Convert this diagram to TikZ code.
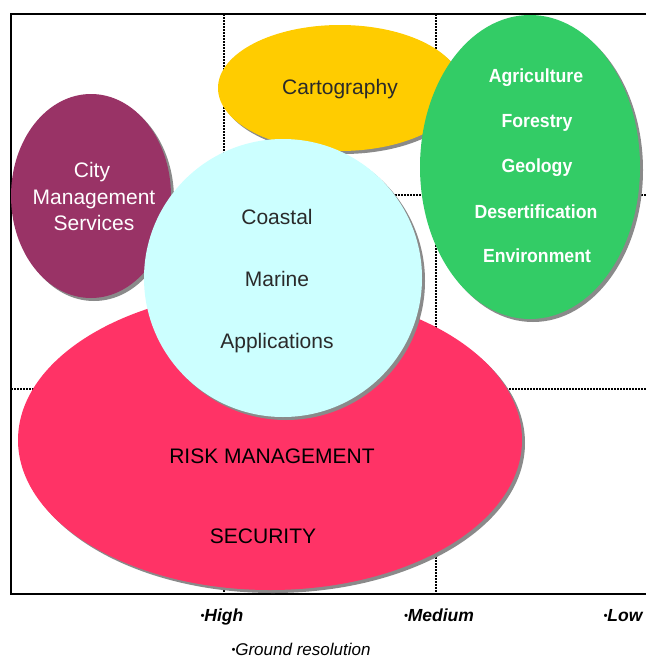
\documentclass[tikz,border=0pt]{standalone}
\usepackage{fontspec}
\setmainfont{Liberation Sans}
\newfontfamily\greenfont[FakeStretch=0.93]{Liberation Sans}
\definecolor{cmpurple}{HTML}{993366}
\definecolor{cmyellow}{HTML}{FFCC00}
\definecolor{cmgreen}{HTML}{33CC66}
\definecolor{cmred}{HTML}{FF3366}
\definecolor{cmcyan}{HTML}{CCFFFF}
\definecolor{shadowgrey}{HTML}{8A8A8A}
\definecolor{darktext}{HTML}{2A2A2A}
\newcommand{\smallbul}{{\fontsize{11}{11}\selectfont\raisebox{1.5pt}{•}}}
\tikzset{
  frameline/.style={line width=2pt, black},
  gridline/.style={line width=1.5pt, dash pattern=on 1.5pt off 1.5pt, black},
  shadowfill/.style={fill=shadowgrey},
  lbl/.style={inner sep=0pt, anchor=base, text=darktext, font=\fontsize{21}{21}\selectfont},
  citylbl/.style={lbl, text=white},
  glbl/.style={inner sep=0pt, anchor=base, text=white, font=\fontsize{19}{19}\greenfont\bfseries},
  axlbl/.style={inner sep=0pt, anchor=base, text=black, font=\fontsize{17.5}{17.5}\selectfont\bfseries\itshape},
  reslbl/.style={inner sep=0pt, anchor=base, text=black, font=\fontsize{17}{17}\selectfont\itshape},
}
\begin{document}
\begin{tikzpicture}[x=1pt,y=-1pt]
\useasboundingbox (0,0) rectangle (646,659);
\fill[white] (0,0) rectangle (646,659);
% grid lines
\draw[gridline] (224,14) -- (224,594);
\draw[gridline] (436,14) -- (436,594);
\draw[gridline] (11,195) -- (646,195);
\draw[gridline] (11,389) -- (646,389);
% frame
\draw[frameline] (646,14) -- (11,14) -- (11,594) -- (646,594);
% City Management (purple)
\fill[shadowfill] (94,199) ellipse [x radius=80, y radius=102];
\fill[cmpurple] (91,196) ellipse [x radius=80, y radius=102];
% Cartography (yellow)
\fill[shadowfill] (343,91) ellipse [x radius=122, y radius=63];
\fill[cmyellow] (340,88) ellipse [x radius=122, y radius=63];
% green
\fill[shadowfill] (533,170) ellipse [x radius=110, y radius=152];
\fill[cmgreen] (530,167) ellipse [x radius=110, y radius=152];
% red
\fill[shadowfill] (273,443) ellipse [x radius=252, y radius=150];
\fill[cmred] (270,440) ellipse [x radius=252, y radius=150];
% cyan circle
\fill[shadowfill] (286,281) ellipse [x radius=139, y radius=139];
\fill[cmcyan] (283,278) ellipse [x radius=139, y radius=139];
% texts
\node[lbl] (carto) at (340,94) {Cartography};
\node[citylbl] (city1) at (92,177) {City};
\node[citylbl] (city2) at (94,204) {Management};
\node[citylbl] (city3) at (94,230) {Services};
\node[lbl] (coast) at (277,224) {Coastal};
\node[lbl] (marine) at (277,286) {Marine};
\node[lbl] (appl) at (277,348) {Applications};
\node[lbl, text=black] (risk) at (272,463) {RISK MANAGEMENT};
\node[lbl, text=black] (secu) at (263,543) {SECURITY};
\node[glbl] (agri) at (536,82) {Agriculture};
\node[glbl] (fore) at (537,127) {Forestry};
\node[glbl] (geol) at (537,172) {Geology};
\node[glbl] (dese) at (536,218) {Desertification};
\node[glbl] (envi) at (537,262) {Environment};
\node[axlbl] (high) at (222,621) {\smallbul High};
\node[axlbl] (medium) at (439,621) {\smallbul Medium};
\node[axlbl] (low) at (623,621) {\smallbul Low};
\node[reslbl] (ground) at (301,655) {\smallbul Ground resolution};
\end{tikzpicture}
\end{document}
